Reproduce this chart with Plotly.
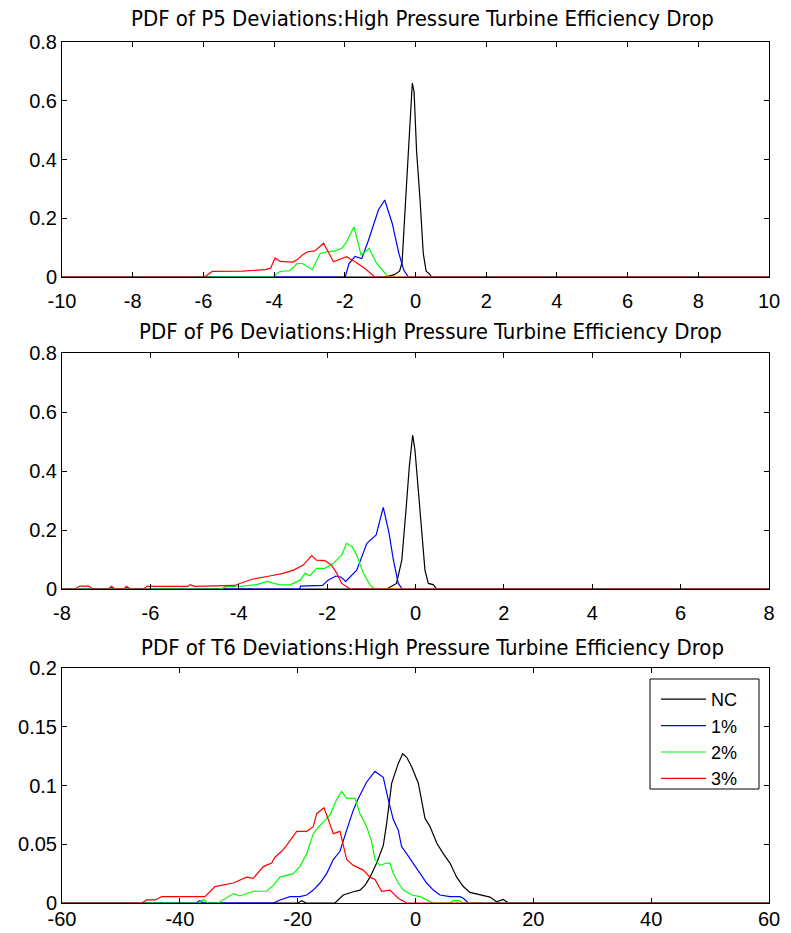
import plotly.graph_objects as go

W, H = 791, 933

# ---------------- data ----------------
series_names = ["NC", "1%", "2%", "3%"]
series_colors = ["#000000", "#0000ff", "#00ff00", "#ff0000"]

titles = [
    "PDF of P5 Deviations:High Pressure Turbine Efficiency Drop",
    "PDF of P6 Deviations:High Pressure Turbine Efficiency Drop",
    "PDF of T6 Deviations:High Pressure Turbine Efficiency Drop",
]

# Panel 1: P5
p5_nc_x = [-10, -0.85, -0.6, -0.45, -0.38, -0.25, -0.155, -0.09, -0.04, 0.03, 0.13, 0.22, 0.30, 0.40, 0.46, 10]
p5_nc_y = [0, 0, 0.008, 0.02, 0.05, 0.32, 0.52, 0.66, 0.63, 0.43, 0.26, 0.08, 0.02, 0.01, 0, 0]
p5_1_x = [-10, -1.99, -1.88, -1.71, -1.52, -1.33, -1.05, -0.87, -0.66, -0.47, -0.33, -0.2, 10]
p5_1_y = [0, 0, 0.046, 0.07, 0.063, 0.125, 0.228, 0.262, 0.183, 0.08, 0.023, 0, 0]
p5_2_x = [-10, -4.04, -3.85, -3.55, -3.35, -3.2, -2.92, -2.7, -2.5, -2.3, -2.09, -1.95, -1.74, -1.54, -1.31, -1.1, -0.77, 10]
p5_2_y = [0, 0, 0.018, 0.022, 0.046, 0.046, 0.025, 0.08, 0.086, 0.088, 0.097, 0.12, 0.171, 0.075, 0.097, 0.046, 0, 0]
p5_3_x = [-10, -5.97, -5.75, -4.9, -4.25, -4.1, -3.97, -3.83, -3.47, -3.33, -3.2, -3.05, -2.85, -2.6, -2.32, -1.95, -1.71, -1.44, -1.15, 10]
p5_3_y = [0, 0, 0.019, 0.02, 0.025, 0.03, 0.065, 0.053, 0.051, 0.06, 0.075, 0.086, 0.089, 0.115, 0.052, 0.069, 0.052, 0.03, 0, 0]

# Panel 2: P6
p6_nc_x = [-8, -0.65, -0.43, -0.31, -0.215, -0.14, -0.064, -0.012, 0.063, 0.14, 0.214, 0.29, 0.40, 0.48, 8]
p6_nc_y = [0, 0, 0.019, 0.098, 0.268, 0.415, 0.522, 0.471, 0.336, 0.211, 0.064, 0.019, 0.015, 0, 0]
p6_1_x = [-8, -2.62, -2.6, -2.1, -1.98, -1.8, -1.68, -1.58, -1.33, -1.1, -0.89, -0.73, -0.6, -0.5, -0.39, -0.3, 8]
p6_1_y = [0, 0, 0.01, 0.012, 0.03, 0.044, 0.04, 0.026, 0.064, 0.155, 0.183, 0.277, 0.19, 0.098, 0.019, 0, 0]
p6_2_x = [-8, -4.4, -4.3, -3.9, -3.6, -3.35, -3.1, -2.84, -2.61, -2.5, -2.39, -2.24, -2.05, -1.86, -1.67, -1.56, -1.44, -1.33, -1.18, -1.03, -0.92, 8]
p6_2_y = [0, 0, 0.008, 0.01, 0.015, 0.026, 0.015, 0.014, 0.03, 0.053, 0.045, 0.07, 0.07, 0.087, 0.115, 0.155, 0.144, 0.115, 0.053, 0.014, 0, 0]
p6_3_x = [-8, -7.7, -7.6, -7.4, -7.3, -6.95, -6.88, -6.8, -6.6, -6.54, -6.45, -6.15, -6.08, -5.15, -5.1, -5.0, -4.1, -3.9, -3.7, -3.3, -3.0, -2.76, -2.54, -2.35, -2.24, -2.05, -1.9, -1.78, -1.67, -1.48, 8]
p6_3_y = [0, 0, 0.01, 0.01, 0, 0, 0.009, 0, 0, 0.009, 0, 0, 0.009, 0.009, 0.015, 0.009, 0.012, 0.022, 0.033, 0.044, 0.053, 0.064, 0.081, 0.113, 0.098, 0.096, 0.081, 0.053, 0.019, 0, 0]

# Panel 3: T6
t6_nc_x = [-60, -20.0, -19.3, -18.6, -13.67, -12.26, -10.56, -9.42, -8.57, -7.72, -6.59, -5.46, -4.89, -4.04, -2.91, -2.17, -1.49, -0.65, 0.48, 1.05, 1.61, 2.46, 3.6, 4.71, 5.85, 6.99, 8.11, 9.25, 10.94, 12.64, 13.78, 14.9, 15.8, 60]
t6_nc_y = [0, 0, 0.002, 0, 0, 0.0068, 0.0096, 0.011, 0.015, 0.022, 0.034, 0.049, 0.068, 0.102, 0.119, 0.127, 0.124, 0.116, 0.102, 0.085, 0.072, 0.065, 0.051, 0.042, 0.034, 0.022, 0.014, 0.009, 0.0068, 0.005, 0.001, 0.003, 0, 0]
t6_1_x = [-60, -37.3, -36.6, -35.9, -24.14, -23.0, -21.3, -19.6, -18.47, -17.35, -16.21, -15.08, -13.95, -12.82, -11.68, -10.56, -9.71, -8.29, -6.88, -5.47, -4.62, -3.77, -2.92, -2.36, -1.51, -0.38, 0.76, 1.89, 3.02, 4.15, 5.85, 7.55, 8.12, 8.97, 60]
t6_1_y = [0, 0, 0.002, 0, 0, 0.0026, 0.0054, 0.0054, 0.0068, 0.011, 0.017, 0.025, 0.037, 0.044, 0.062, 0.079, 0.089, 0.103, 0.112, 0.107, 0.088, 0.071, 0.062, 0.048, 0.042, 0.034, 0.025, 0.017, 0.011, 0.0068, 0.0054, 0.0054, 0.004, 0, 0]
t6_2_x = [-60, -36.8, -36.0, -35.2, -33.5, -32.5, -30.93, -29.8, -27.53, -25.27, -24.14, -23.0, -20.74, -19.61, -18.47, -17.35, -16.21, -14.51, -13.38, -12.53, -11.68, -10.27, -9.42, -8.29, -7.44, -6.88, -6.03, -4.89, -4.33, -3.77, -2.92, -2.07, -0.65, 0.76, 2.46, 3.0, 5.8, 6.4, 7.5, 8.0, 60]
t6_2_y = [0, 0, 0.003, 0, 0, 0.003, 0.008, 0.006, 0.01, 0.01, 0.015, 0.022, 0.025, 0.031, 0.042, 0.059, 0.066, 0.075, 0.088, 0.095, 0.089, 0.089, 0.076, 0.065, 0.052, 0.037, 0.032, 0.034, 0.034, 0.025, 0.017, 0.011, 0.0068, 0.0054, 0.001, 0, 0, 0.002, 0.002, 0, 0]
t6_3_x = [-60, -46.47, -45.62, -44.2, -43.08, -35.73, -34.03, -32.33, -30.93, -28.66, -27.53, -25.83, -24.42, -23.85, -22.72, -21.87, -20.17, -18.47, -17.35, -16.78, -15.53, -14.8, -13.95, -12.82, -11.68, -10.56, -8.86, -7.72, -6.88, -5.75, -4.33, -2.92, -1.5, 60]
t6_3_y = [0, 0, 0.0026, 0.0026, 0.0054, 0.0054, 0.014, 0.016, 0.017, 0.022, 0.021, 0.031, 0.034, 0.039, 0.044, 0.049, 0.061, 0.061, 0.065, 0.076, 0.081, 0.071, 0.059, 0.061, 0.037, 0.032, 0.028, 0.022, 0.02, 0.01, 0.011, 0.004, 0, 0]

panel_series = [
    [(p5_nc_x, p5_nc_y), (p5_1_x, p5_1_y), (p5_2_x, p5_2_y), (p5_3_x, p5_3_y)],
    [(p6_nc_x, p6_nc_y), (p6_1_x, p6_1_y), (p6_2_x, p6_2_y), (p6_3_x, p6_3_y)],
    [(t6_nc_x, t6_nc_y), (t6_1_x, t6_1_y), (t6_2_x, t6_2_y), (t6_3_x, t6_3_y)],
]

x_ranges = [[-10, 10], [-8, 8], [-60, 60]]
x_ticks = [list(range(-10, 11, 2)), list(range(-8, 9, 2)), list(range(-60, 61, 20))]
y_ranges = [[0, 0.8], [0, 0.8], [0, 0.2]]
y_ticks = [[0, 0.2, 0.4, 0.6, 0.8], [0, 0.2, 0.4, 0.6, 0.8], [0, 0.05, 0.1, 0.15, 0.2]]
y_ticktext = [["0", "0.2", "0.4", "0.6", "0.8"], ["0", "0.2", "0.4", "0.6", "0.8"], ["0", "0.05", "0.1", "0.15", "0.2"]]

# ---------------- layout geometry (pixels) ----------------
plot_left, plot_right = 62, 769
panel_px = [(42, 277), (353, 589), (668, 903)]
title_px = [(422, 18), (430, 332), (432, 647)]
x_label_standoff = [6, 6, -2]
legend_box_px = (650, 679, 759, 789)  # x0, y0, x1, y1

def py(p):
    return 1 - p / H

fig = go.Figure()
tick_font = dict(family="Liberation Sans, Arial, sans-serif", size=20, color="#000000")

for i in range(3):
    xa = "x" if i == 0 else f"x{i+1}"
    ya = "y" if i == 0 else f"y{i+1}"
    for j, (xs, ys) in enumerate(panel_series[i]):
        fig.add_trace(go.Scatter(
            x=xs, y=ys, mode="lines", name=series_names[j],
            line=dict(color=series_colors[j], width=1.2),
            xaxis=xa, yaxis=ya, showlegend=(i == 2), hoverinfo="skip",
        ))
    top, bot = panel_px[i]
    axis_common = dict(showline=True, linecolor="#000000", linewidth=1, mirror="ticks",
                       ticks="inside", ticklen=5, tickwidth=1, tickcolor="#000000",
                       showgrid=False, zeroline=False, automargin=False, tickfont=tick_font)
    fig.layout[("xaxis" if i == 0 else f"xaxis{i+1}")] = dict(
        domain=[plot_left / W, plot_right / W], range=x_ranges[i], tickmode="array",
        tickvals=x_ticks[i], ticktext=[str(v) for v in x_ticks[i]],
        anchor=ya, ticklabelstandoff=x_label_standoff[i], **axis_common)
    fig.layout[("yaxis" if i == 0 else f"yaxis{i+1}")] = dict(
        domain=[py(bot), py(top)], range=y_ranges[i], tickmode="array",
        tickvals=y_ticks[i], ticktext=y_ticktext[i], anchor=xa,
        ticklabelstandoff=0, **axis_common)
    fig.add_annotation(text=titles[i], x=title_px[i][0] / W, y=py(title_px[i][1]),
                       xref="paper", yref="paper", xanchor="center", yanchor="middle",
                       showarrow=False,
                       font=dict(family="Liberation Sans Narrow, DejaVu Sans Condensed, Arial Narrow, sans-serif",
                                 size=22, color="#000000"))

# legend frame
lx0, ly0, lx1, ly1 = legend_box_px
fig.add_shape(type="rect", xref="paper", yref="paper",
              x0=lx0 / W, x1=lx1 / W, y0=py(ly1), y1=py(ly0),
              line=dict(color="#000000", width=1), fillcolor="white", layer="above")

fig.update_layout(
    template="none",
    width=W, height=H, autosize=False, margin=dict(l=0, r=0, t=0, b=0, pad=0),
    paper_bgcolor="white", plot_bgcolor="white",
    showlegend=True,
    legend=dict(x=656 / W, y=py(681), xanchor="left", yanchor="top",
                bgcolor="rgba(0,0,0,0)", borderwidth=0,
                font=dict(family="Liberation Sans, Arial, sans-serif", size=18, color="#000000"),
                itemwidth=45, tracegroupgap=0),
)

post = "document.body.style.margin='0px';"
fig.write_html("out.html", post_script=post)
